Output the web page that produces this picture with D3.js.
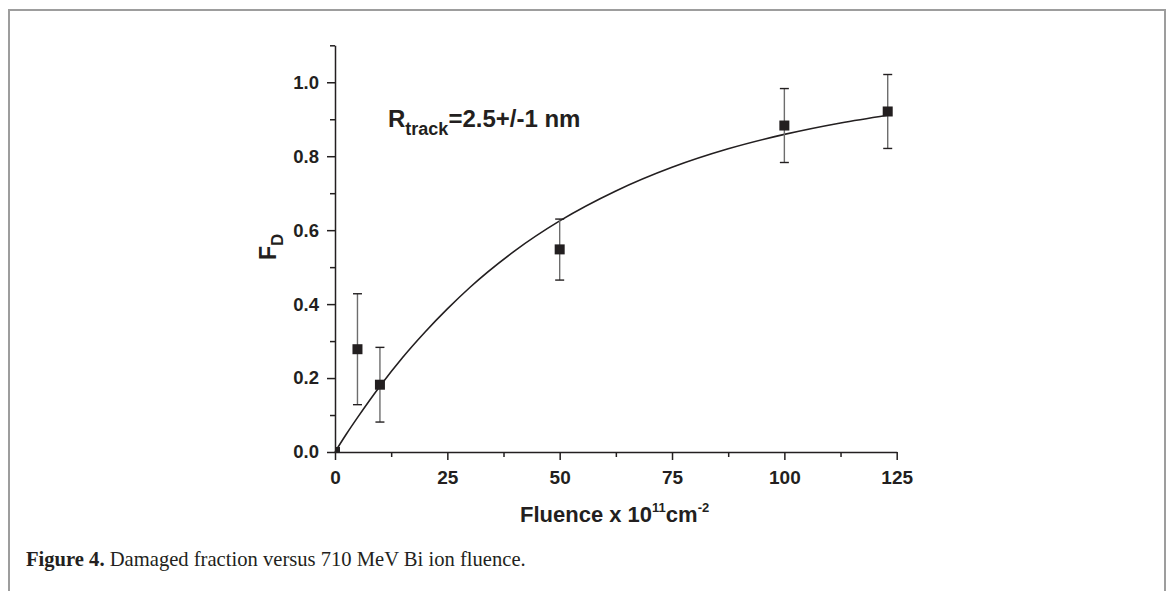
<!DOCTYPE html>
<html><head><meta charset="utf-8">
<script src="https://cdn.jsdelivr.net/npm/d3@7"></script>
<style>body{margin:0;background:#fff}svg{display:block}</style>
</head><body>
<script>
// ---- data ----
const fluence = [0, 5, 10, 50, 100, 123];
const damaged = [0, 0.278, 0.182, 0.548, 0.883, 0.921];
const errLow  = [0, 0.150, 0.101, 0.083, 0.100, 0.100];
const errHigh = [0, 0.150, 0.101, 0.082, 0.100, 0.100];
const fitX = [0, 2.5, 5, 10, 15, 20, 25, 30, 40, 50, 62.5, 75, 87.5, 100, 112.5, 123];
const fitY = [0, 0.048, 0.093, 0.178, 0.255, 0.324, 0.387, 0.445, 0.544, 0.625, 0.706, 0.770, 0.820, 0.859, 0.890, 0.911];
const xTicks = [0, 25, 50, 75, 100, 125];
const xMinor = [12.5, 37.5, 62.5, 87.5, 112.5];
const yTicks = [0.0, 0.2, 0.4, 0.6, 0.8, 1.0];
const yMinor = [0.1, 0.3, 0.5, 0.7, 0.9, 1.1];

const W = 1168, H = 591;
const svg = d3.select("body").append("svg").attr("width", W).attr("height", H);
const ink = "#231f20";

// frame
svg.append("path").attr("d", `M9,${H} V10 H1165 V${H}`)
  .attr("fill", "none").attr("stroke", "#9d9d9d").attr("stroke-width", 2);

const x = d3.scaleLinear().domain([0, 125]).range([335, 896.7]);
const y = d3.scaleLinear().domain([0, 1.1]).range([452, 45.3]);

// axes
const xAxis = svg.append("g").attr("transform", "translate(0,452)")
  .call(d3.axisBottom(x).tickValues(xTicks).tickFormat(d3.format("d")).tickSize(8).tickSizeOuter(0));
svg.append("g").attr("transform", "translate(0,452)")
  .call(d3.axisBottom(x).tickValues(xMinor).tickFormat("").tickSize(5).tickSizeOuter(0))
  .select(".domain").remove();
const yAxis = svg.append("g").attr("transform", "translate(335,0)")
  .call(d3.axisLeft(y).tickValues(yTicks).tickFormat(d3.format(".1f")).tickSize(8).tickSizeOuter(0));
svg.append("g").attr("transform", "translate(335,0)")
  .call(d3.axisLeft(y).tickValues(yMinor).tickFormat("").tickSize(5).tickSizeOuter(0))
  .select(".domain").remove();
svg.selectAll(".domain, .tick line").attr("stroke", ink).attr("stroke-width", 1.5);
xAxis.selectAll("text").attr("font-family", "Liberation Sans, Arial, sans-serif")
  .attr("font-weight", "bold").attr("font-size", 19).attr("fill", ink).attr("dy", "1.1em");
yAxis.selectAll("text").attr("font-family", "Liberation Sans, Arial, sans-serif")
  .attr("font-weight", "bold").attr("font-size", 18.5).attr("fill", ink).attr("x", -16);

// clip
svg.append("clipPath").attr("id", "plot").append("rect")
  .attr("x", 335).attr("y", 20).attr("width", 600).attr("height", 432);

// fit curve
const fit = fitX.map((v, i) => [v, fitY[i]]);
svg.append("path").datum(fit)
  .attr("d", d3.line().x(d => x(d[0])).y(d => y(d[1])).curve(d3.curveMonotoneX))
  .attr("fill", "none").attr("stroke", ink).attr("stroke-width", 1.6);

// error bars
const pts = fluence.map((v, i) => ({x: v, y: damaged[i], lo: damaged[i] - errLow[i], hi: damaged[i] + errHigh[i]}));
const eb = svg.append("g");
pts.filter(d => d.hi > d.lo).forEach(d => {
  eb.append("line").attr("x1", x(d.x)).attr("x2", x(d.x)).attr("y1", y(d.lo)).attr("y2", y(d.hi))
    .attr("stroke", "#6d6d6d").attr("stroke-width", 1.4);
  [d.lo, d.hi].forEach(v => eb.append("line").attr("x1", x(d.x) - 4.5).attr("x2", x(d.x) + 4.5)
    .attr("y1", y(v)).attr("y2", y(v)).attr("stroke", ink).attr("stroke-width", 1.4));
});

// markers
svg.append("g").attr("clip-path", "url(#plot)").selectAll("rect").data(pts).join("rect")
  .attr("x", d => x(d.x) - 5).attr("y", d => y(d.y) - 5)
  .attr("width", 10).attr("height", 10).attr("fill", ink);

// annotation
const ann = svg.append("text").attr("x", 388).attr("y", 127)
  .attr("font-family", "Liberation Sans, Arial, sans-serif").attr("font-weight", "bold")
  .attr("font-size", 24).attr("fill", ink);
ann.append("tspan").text("R");
ann.append("tspan").text("track").attr("font-size", 18).attr("dy", 8);
ann.append("tspan").text("=2.5+/-1 nm").attr("dy", -8);

// y label
const yl = svg.append("text").attr("transform", "translate(276,260) rotate(-90)")
  .attr("font-family", "Liberation Sans, Arial, sans-serif").attr("font-weight", "bold")
  .attr("font-size", 23).attr("fill", ink);
yl.append("tspan").text("F");
yl.append("tspan").text("D").attr("font-size", 17).attr("dy", 7);

// x label
const xl = svg.append("text").attr("x", 520).attr("y", 522)
  .attr("font-family", "Liberation Sans, Arial, sans-serif").attr("font-weight", "bold")
  .attr("font-size", 22).attr("fill", ink);
xl.append("tspan").text("Fluence x 10");
xl.append("tspan").text("11").attr("font-size", 13).attr("dy", -10);
xl.append("tspan").text("cm").attr("dy", 10);
xl.append("tspan").text("-2").attr("font-size", 13).attr("dy", -10);

// caption
const cap = svg.append("text").attr("x", 26).attr("y", 566)
  .attr("font-family", "Liberation Serif, Times New Roman, serif")
  .attr("font-size", 20.6).attr("fill", ink);
cap.append("tspan").text("Figure 4.").attr("font-weight", "bold");
cap.append("tspan").text(" Damaged fraction versus 710 MeV Bi ion fluence.");
</script>
</body></html>
